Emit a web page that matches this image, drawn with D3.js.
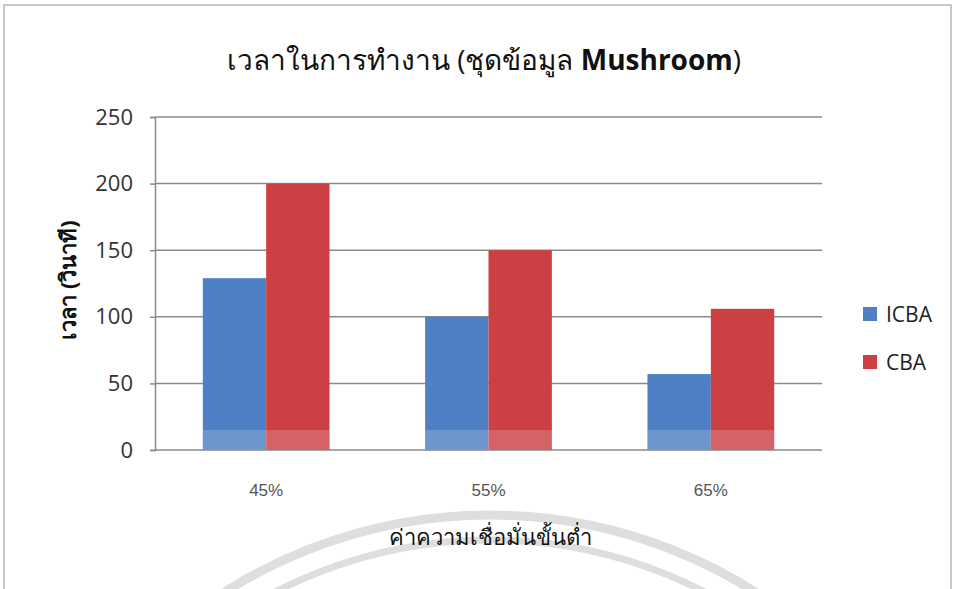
<!DOCTYPE html>
<html lang="th">
<head>
  <meta charset="UTF-8">
  <script src="https://cdn.jsdelivr.net/npm/d3@7/dist/d3.min.js"></script>
  <title>Mushroom</title>
  <style>
    body { margin: 0; background: #fff; }
    svg { display: block; }
    text { font-family: "Open Sans", "Noto Sans", sans-serif; }
  </style>
</head>
<body>
  <svg id="chart" width="955" height="589"></svg>
  <script>
    const categories = ["45%", "55%", "65%"];
    const seriesNames = ["ICBA", "CBA"];
    const icba = [129, 100, 57];
    const cba = [200, 150, 106];
    const yTicks = [0, 50, 100, 150, 200, 250];
    const colors = ["#4f7fc4", "#cc4044"];

    const svg = d3.select("#chart");
    const plotLeft = 155, plotRight = 822, plotTop = 117, plotBottom = 450;

    // faint watermark arcs at the bottom
    const wm = svg.append("g").attr("fill", "none").attr("stroke", "#dedede");
    wm.append("circle").attr("cx", 490).attr("cy", 1010).attr("r", 495).attr("stroke-width", 9);
    wm.append("circle").attr("cx", 490).attr("cy", 1010).attr("r", 470).attr("stroke-width", 7);

    // frame
    svg.append("rect").attr("x", 4).attr("y", 5).attr("width", 947).attr("height", 600)
      .attr("fill", "none").attr("stroke", "#b5b5b5").attr("stroke-width", 1.5);

    const x0 = d3.scaleBand().domain(categories).range([plotLeft, plotRight]).paddingInner(0.43).paddingOuter(0.215);
    const x1 = d3.scaleBand().domain(seriesNames).range([0, x0.bandwidth()]);
    const y = d3.scaleLinear().domain([0, 250]).range([plotBottom, plotTop]);

    // gridlines
    svg.append("g").selectAll("line").data(yTicks).join("line")
      .attr("x1", plotLeft).attr("x2", plotRight)
      .attr("y1", d => y(d)).attr("y2", d => y(d))
      .attr("stroke", "#8a8a8a").attr("stroke-width", 1.5);

    // y axis
    const yAxis = svg.append("g").attr("transform", `translate(${plotLeft},0)`)
      .call(d3.axisLeft(y).tickValues(yTicks).tickSize(5).tickPadding(17));
    yAxis.select(".domain").attr("stroke", "#8a8a8a").attr("stroke-width", 1.5);
    yAxis.selectAll(".tick line").attr("stroke", "#8a8a8a").attr("stroke-width", 1.5);
    yAxis.selectAll(".tick text").attr("font-size", 22).attr("fill", "#333")
      .style("font-family", "'Open Sans', sans-serif");

    // bars
    const rows = categories.map((c, i) => ({ cat: c, vals: [icba[i], cba[i]] }));
    const groups = svg.append("g").selectAll("g").data(rows).join("g")
      .attr("transform", d => `translate(${x0(d.cat)},0)`);
    groups.selectAll("rect.bar")
      .data(d => d.vals.map((v, j) => ({ name: seriesNames[j], v, j })))
      .join("rect").attr("class", "bar")
      .attr("x", d => x1(d.name))
      .attr("width", x1.bandwidth())
      .attr("y", d => y(d.v))
      .attr("height", d => y(0) - y(d.v))
      .attr("fill", d => colors[d.j]);
    // lighter strip at the base of the bars (as in the scanned picture)
    groups.selectAll("rect.fade")
      .data(d => d.vals.map((v, j) => ({ name: seriesNames[j], v, j })))
      .join("rect").attr("class", "fade")
      .attr("x", d => x1(d.name))
      .attr("width", x1.bandwidth())
      .attr("y", y(15))
      .attr("height", y(0) - y(15))
      .attr("fill", "#fff").attr("opacity", 0.18);

    // x labels
    svg.append("g").selectAll("text").data(categories).join("text")
      .attr("x", d => x0(d) + x0.bandwidth() / 2)
      .attr("y", 496)
      .attr("text-anchor", "middle")
      .attr("font-size", 17).attr("fill", "#555")
      .style("font-family", "'Liberation Sans Narrow', 'Liberation Sans', sans-serif")
      .text(d => d);

    // title
    const title = svg.append("text").attr("x", 484).attr("y", 70)
      .attr("text-anchor", "middle").attr("font-size", 28).attr("fill", "#111");
    title.append("tspan").text("เวลาในการทำงาน (ชุดข้อมูล ");
    title.append("tspan").attr("font-weight", "bold").text("Mushroom");
    title.append("tspan").text(")");

    // axis titles
    svg.append("text").attr("x", 490).attr("y", 545).attr("text-anchor", "middle")
      .attr("font-size", 22).attr("fill", "#111").text("ค่าความเชื่อมั่นขั้นต่ำ");
    svg.append("text").attr("transform", "translate(76,280) rotate(-90)")
      .attr("text-anchor", "middle").attr("font-size", 22).attr("font-weight", "bold")
      .attr("fill", "#111").text("เวลา (วินาที)");

    // legend
    const legend = svg.append("g").selectAll("g").data(seriesNames).join("g")
      .attr("transform", (d, i) => `translate(863,${307 + i * 48})`);
    legend.append("rect").attr("width", 14).attr("height", 14).attr("fill", (d, i) => colors[i]);
    legend.append("text").attr("x", 23).attr("y", 15).attr("font-size", 21).attr("fill", "#222")
      .text(d => d);
  </script>
</body>
</html>
